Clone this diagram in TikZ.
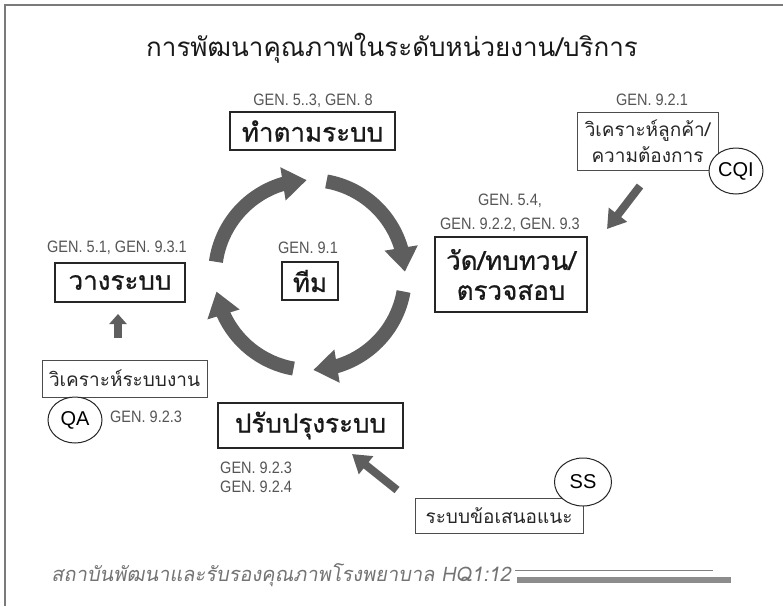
\documentclass[tikz,border=0pt]{standalone}
\usepackage{fontspec}
\newfontfamily\thai[Script=Thai]{Loma}
\newfontfamily\thaibold[Script=Thai,FakeBold=0.8]{Loma}
\newfontfamily\thaiit[Script=Thai,FakeSlant=0.18]{Loma}
\newfontfamily\genfont[FakeStretch=0.88]{Liberation Sans}
\newfontfamily\latfont{Liberation Sans}
\usetikzlibrary{arrows.meta,bending,shapes.geometric,calc}
\definecolor{arrowgray}{HTML}{5E5E5E}
\definecolor{gentext}{HTML}{555555}
\definecolor{framegray}{HTML}{7A7A7A}
\tikzset{
  gen/.style={font=\genfont\fontsize{16.5}{18}\selectfont, text=gentext, inner sep=0pt},
  mainbox/.style={draw=black!85, line width=1.8pt, inner sep=0pt, font=\thaibold\fontsize{26}{30}\selectfont, text=black!90, align=center},
  sidebox/.style={draw=black!70, line width=1pt, inner sep=0pt, font=\thai\fontsize{19}{26}\selectfont, text=black!85, align=center},
  tag/.style={ellipse, draw=black!85, line width=1pt, fill=white, inner sep=0pt, font=\latfont\fontsize{20}{22}\selectfont},
  cyclearc/.style={draw=arrowgray, line width=14pt, -{Triangle[width=32pt,length=24pt]}},
  bigarrow/.style={draw=arrowgray, line width=8pt, -{Triangle[width=22pt,length=18pt]}},
  smallarrow/.style={draw=arrowgray, line width=8pt, -{Triangle[width=17pt,length=10pt]}}
}
\begin{document}
\begin{tikzpicture}[x=1pt,y=-1pt]
\useasboundingbox[fill=white] (0,0) rectangle (783,606);
% frame
\draw[framegray, line width=1.5pt] (5,606) -- (5,5) -- (783,5);

% title
\node[font=\thai\fontsize{26}{30}\selectfont, text=black!90] (title) at (392,48) {การพัฒนาคุณภาพในระดับหน่วยงาน/บริการ};

% top: do
\node[gen] (gentop) at (313,101) {GEN. 5..3, GEN. 8};
\node[mainbox, minimum width=165pt, minimum height=38pt] (dobox) at (312.5,131) {ทำตามระบบ};

% customer analysis
\node[gen] (gencqi) at (652,100) {GEN. 9.2.1};
\node[sidebox, minimum width=141pt, minimum height=58pt] (cqibox) at (647.5,141) {วิเคราะห์ลูกค้า/\\ความต้องการ};
\node[tag, minimum width=54pt, minimum height=46pt] (cqi) at (736,171) {CQI};

% measure
\node[gen] (genmeasa) at (510,201) {GEN. 5.4,};
\node[gen] (genmeasb) at (510,225) {GEN. 9.2.2, GEN. 9.3};
\node[mainbox, minimum width=152pt, minimum height=75pt] (measbox) at (511,274.5) {วัด/ทบทวน/\\ตรวจสอบ};

% team
\node[gen] (genteam) at (308,248) {GEN. 9.1};
\node[mainbox, minimum width=56pt, minimum height=38pt] (teambox) at (310,281) {ทีม};

% plan
\node[gen] (genplan) at (117,248) {GEN. 5.1, GEN. 9.3.1};
\node[mainbox, minimum width=130pt, minimum height=39pt] (planbox) at (120,282.5) {วางระบบ};

% system analysis
\node[sidebox, minimum width=165pt, minimum height=37pt] (anabox) at (124.5,378.5) {วิเคราะห์ระบบงาน};
\node[tag, minimum width=54pt, minimum height=46pt] (qa) at (75,420) {QA};
\node[gen, anchor=west] (genqa) at (110,417) {GEN. 9.2.3};

% improve
\node[mainbox, minimum width=185pt, minimum height=45pt] (impbox) at (310.5,425.5) {ปรับปรุงระบบ};
\node[gen, anchor=west] (genimpa) at (220,468) {GEN. 9.2.3};
\node[gen, anchor=west] (genimpb) at (220,487) {GEN. 9.2.4};

% suggestion system
\node[sidebox, minimum width=168pt, minimum height=35pt] (ssbox) at (499,515.5) {ระบบข้อเสนอแนะ};
\node[tag, minimum width=57pt, minimum height=48pt] (ss) at (583,482) {SS};

% cycle arcs
\coordinate (cc) at (310,275);
\draw[cyclearc] ($(cc)+(-172:95)$) arc[start angle=-172, end angle=-92, radius=95];
\draw[cyclearc] ($(cc)+(-80:95)$) arc[start angle=-80, end angle=-2, radius=95];
\draw[cyclearc] ($(cc)+(10:95)$) arc[start angle=10, end angle=88, radius=95];
\draw[cyclearc] ($(cc)+(100:95)$) arc[start angle=100, end angle=170, radius=95];

% feeding arrows
\coordinate (cqifrom) at (640,186);
\coordinate (cqito) at (607,229);
\draw[bigarrow] (cqifrom) -- (cqito);
\coordinate (ssfrom) at (397,490);
\coordinate (ssto) at (352,454);
\draw[bigarrow] (ssfrom) -- (ssto);
\coordinate (anafrom) at (118,338);
\coordinate (anato) at (118,314);
\draw[smallarrow] (anafrom) -- (anato);

% footer
\node[font=\thaiit\fontsize{20}{24}\selectfont, text=black!55, anchor=east, inner sep=0pt] (footer) at (511,575) {สถาบันพัฒนาและรับรองคุณภาพโรงพยาบาล HQ1:12};
\coordinate (fla) at (515,570);
\coordinate (flb) at (713,570);
\draw[black!50, line width=1pt] (fla) -- (flb);
\coordinate (fba) at (517,580);
\coordinate (fbb) at (731,580);
\draw[black!45, line width=6pt] (fba) -- (fbb);
\end{tikzpicture}
\end{document}
